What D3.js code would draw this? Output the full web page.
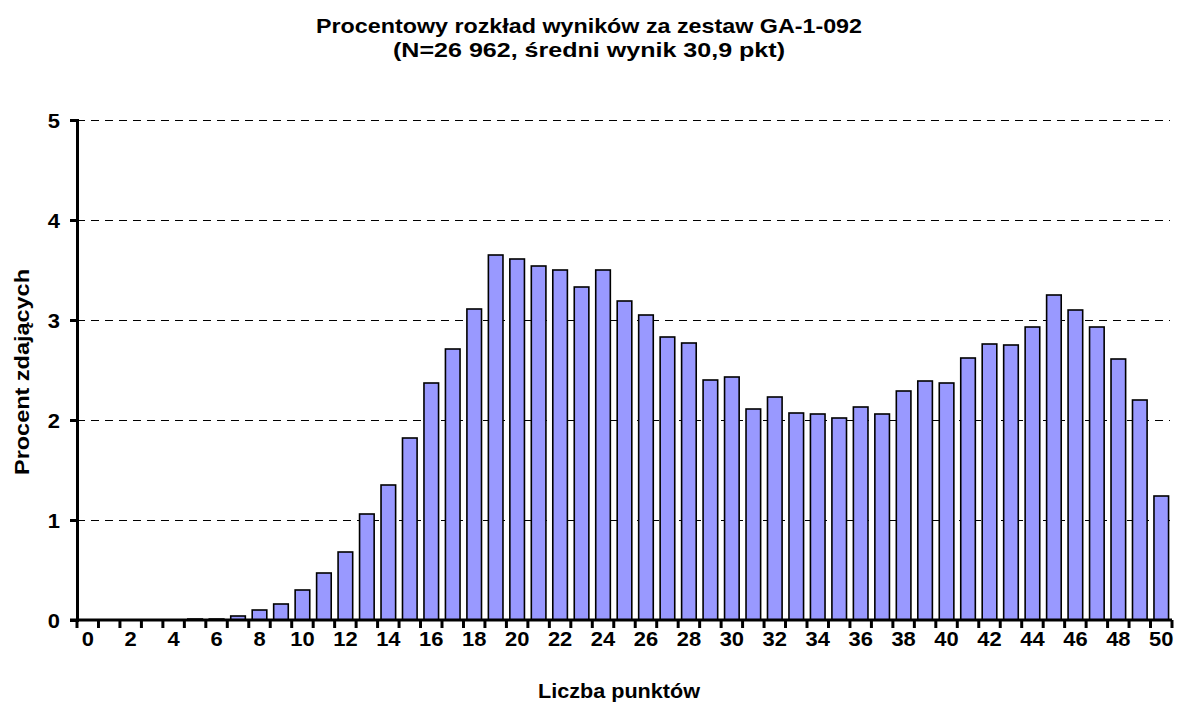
<!DOCTYPE html>
<html>
<head>
  <meta charset="UTF-8" />
  <title>Procentowy rozkład wyników</title>
  <script src="https://d3js.org/d3.v7.min.js"></script>
  <style>
    body { margin: 0; background: #fff; }
    text { font-family: "Liberation Sans", Arial, sans-serif; font-weight: bold; fill: #000; }
  </style>
</head>
<body>
<div id="chart"></div>
<script>
  // punkty 0..50
  var points = d3.range(0, 51);
  // procent zdających dla każdej liczby punktów
  var percent = [
    0, 0, 0, 0, 0, 0.01, 0.01, 0.04, 0.10, 0.16,
    0.30, 0.47, 0.68, 1.06, 1.35, 1.82, 2.37, 2.71, 3.11, 3.65,
    3.61, 3.54, 3.50, 3.33, 3.50, 3.19, 3.05, 2.83, 2.77, 2.40,
    2.43, 2.11, 2.23, 2.07, 2.06, 2.02, 2.13, 2.06, 2.29, 2.39,
    2.37, 2.62, 2.76, 2.75, 2.93, 3.25, 3.10, 2.93, 2.61, 2.20,
    1.24
  ];
  var yTicks = [0, 1, 2, 3, 4, 5];
  var xLabels = points.filter(d => d % 2 === 0);

  var titleLines = [
    "Procentowy rozkład wyników za zestaw GA-1-092",
    "(N=26 962, średni wynik 30,9 pkt)"
  ];
  var xTitle = "Liczba punktów";
  var yTitle = "Procent zdających";

  var data = points.map((p, i) => ({ p: p, v: percent[i] }));

  var width = 1179, height = 704;
  var margin = { left: 77, right: 7, top: 120, bottom: 84 };
  var fontSize = "20.5px";
  var stretch = 1.07; // the original lettering is a little wider than Arial

  var svg = d3.select("#chart")
    .append("svg")
    .attr("width", width)
    .attr("height", height);

  var xScale = d3.scaleBand()
    .domain(points)
    .range([margin.left, width - margin.right])
    .paddingInner(0.32)
    .paddingOuter(0.16);

  var yScale = d3.scaleLinear()
    .domain([0, 5])
    .range([height - margin.bottom, margin.top]);

  // title
  svg.append("g")
    .selectAll("text")
    .data(titleLines)
    .enter()
    .append("text")
    .attr("x", 589)
    .attr("y", (d, i) => 33 + i * 24)
    .attr("text-anchor", "middle")
    .attr("textLength", (d, i) => i === 0 ? 546 : 392)
    .attr("lengthAdjust", "spacingAndGlyphs")
    .style("font-size", fontSize)
    .text(d => d);

  // grid lines (dashed)
  svg.append("g")
    .selectAll("line")
    .data(yTicks.filter(d => d > 0))
    .enter()
    .append("line")
    .attr("x1", margin.left)
    .attr("x2", width - margin.right - 2)
    .attr("y1", d => yScale(d) + 0.5)
    .attr("y2", d => yScale(d) + 0.5)
    .attr("stroke", "#000")
    .attr("stroke-width", 1)
    .attr("stroke-dasharray", "8,6");

  // bars
  svg.append("g")
    .selectAll("rect")
    .data(data)
    .enter()
    .append("rect")
    .attr("x", d => xScale(d.p))
    .attr("y", d => yScale(d.v))
    .attr("width", xScale.bandwidth())
    .attr("height", d => yScale(0) - yScale(d.v))
    .attr("fill", "#9999ff")
    .attr("stroke", "#000")
    .attr("stroke-width", 1.6);

  // y axis
  var yAxis = d3.axisLeft(yScale)
    .tickValues(yTicks)
    .tickSize(7)
    .tickPadding(10)
    .tickFormat(d3.format("d"));

  var gy = svg.append("g")
    .attr("transform", "translate(" + margin.left + ",0)")
    .call(yAxis);
  gy.select(".domain").attr("stroke-width", 3);
  gy.selectAll(".tick line").attr("stroke-width", 3);
  gy.selectAll(".tick text")
    .style("font-size", fontSize)
    .attr("x", null)
    .attr("dy", null)
    .attr("transform", "translate(-17,7.5) scale(" + stretch + ",1)");

  // x axis: ticks between categories, labels on every second one
  var step = xScale.step();
  var boundaries = d3.range(0, points.length + 1).map(i => margin.left + i * step);

  var gx = svg.append("g");
  gx.append("line")
    .attr("x1", margin.left - 7)
    .attr("x2", width - margin.right)
    .attr("y1", yScale(0))
    .attr("y2", yScale(0))
    .attr("stroke", "#000")
    .attr("stroke-width", 3);
  gx.selectAll("line.tick")
    .data(boundaries)
    .enter()
    .append("line")
    .attr("class", "tick")
    .attr("x1", d => d)
    .attr("x2", d => d)
    .attr("y1", yScale(0))
    .attr("y2", yScale(0) + 8)
    .attr("stroke", "#000")
    .attr("stroke-width", 3);
  gx.selectAll("text")
    .data(xLabels)
    .enter()
    .append("text")
    .attr("transform", d => "translate(" + (xScale(d) + xScale.bandwidth() / 2) + "," + (yScale(0) + 26) + ") scale(" + stretch + ",1)")
    .attr("text-anchor", "middle")
    .style("font-size", fontSize)
    .text(d => d);

  // axis titles
  svg.append("text")
    .attr("x", 619)
    .attr("y", 698)
    .attr("text-anchor", "middle")
    .attr("textLength", 162)
    .attr("lengthAdjust", "spacingAndGlyphs")
    .style("font-size", fontSize)
    .text(xTitle);

  svg.append("text")
    .attr("transform", "translate(29,372) rotate(-90)")
    .attr("text-anchor", "middle")
    .attr("textLength", 206)
    .attr("lengthAdjust", "spacingAndGlyphs")
    .style("font-size", fontSize)
    .text(yTitle);
</script>
</body>
</html>
